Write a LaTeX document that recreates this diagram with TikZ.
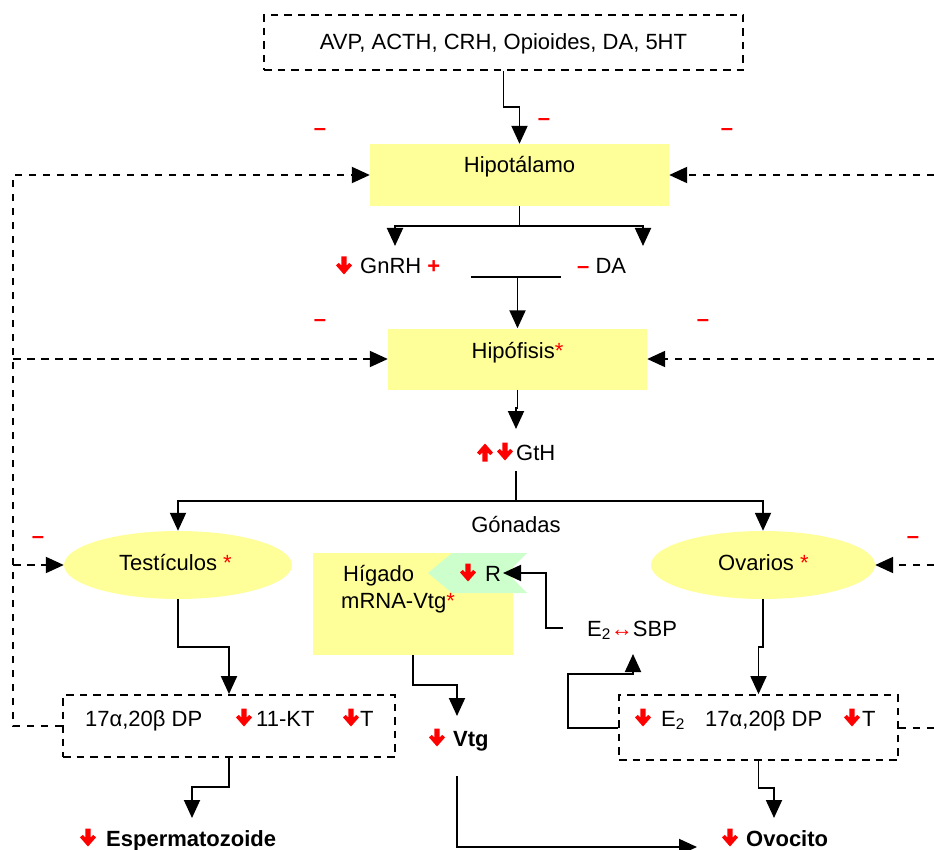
\documentclass[tikz,border=0pt]{standalone}
\usepackage{fontspec}
\setmainfont{Liberation Sans}
\usetikzlibrary{arrows.meta,shapes.geometric}
\definecolor{paleyellow}{HTML}{FFFF99}
\definecolor{palegreen}{HTML}{CCFFCC}
\definecolor{signred}{HTML}{FF0000}
\tikzset{
  conn/.style={line width=1.9pt, line join=miter},
  arr/.style={conn, -{Triangle[length=18pt,width=16pt]}},
  fb/.style={line width=2pt, line join=miter, dash pattern=on 7.5pt off 6.5pt},
  fbarr/.style={fb, -{Triangle[length=18pt,width=16pt]}},
  organ/.style={fill=paleyellow, draw=none, inner sep=0},
  dbox/.style={draw, line width=1.8pt, dash pattern=on 7.5pt off 6pt, inner sep=0},
  lbl/.style={inner sep=0, anchor=base west},
  ctr/.style={inner sep=0, anchor=base},
  neg/.style={text=signred, font=\fontsize{22}{26}\selectfont\bfseries, inner sep=0},
  pics/dn/.style={code={\fill[signred] (-2.7,-9.5) -- (2.7,-9.5) -- (2.7,-0.5) -- (5.2,-3.2) -- (8,-0.6) -- (0,8.5) -- (-8,-0.6) -- (-5.2,-3.2) -- (-2.7,-0.5) -- cycle;}},
  pics/upa/.style={code={\fill[signred] (-2.7,9.5) -- (2.7,9.5) -- (2.7,0.5) -- (5.2,3.2) -- (8,0.6) -- (0,-8.5) -- (-8,0.6) -- (-5.2,3.2) -- (-2.7,0.5) -- cycle;}},
}
\begin{document}
\begin{tikzpicture}[x=1pt, y=-1pt, font=\fontsize{22}{26}\selectfont]
\useasboundingbox (0,0) rectangle (934,850);

% ---------- boxes and organs ----------
\node[dbox, minimum width=479pt, minimum height=55pt] (top) at (503.5,42.5) {};
\node[ctr] (toptxt) at (503.5,50) {AVP, ACTH, CRH, Opioides, DA, 5HT};

\node[organ, minimum width=299pt, minimum height=62pt] (hypo) at (519.5,175) {};
\node[ctr] (hypotxt) at (519.5,173) {Hipotálamo};

\node[organ, minimum width=259pt, minimum height=61pt] (hypo2) at (517.5,359) {};
\node[ctr] (hypo2txt) at (517.5,358) {Hipófisis\textcolor{signred}{*}};

\node[organ, ellipse, minimum width=228pt, minimum height=68pt] (test) at (178,565) {};
\node[lbl] (testtxt) at (119,570) {Testículos \textcolor{signred}{*}};

\node[organ, ellipse, minimum width=224pt, minimum height=68pt] (ova) at (763,565) {};
\node[lbl] (ovatxt) at (718,570) {Ovarios \textcolor{signred}{*}};

\node[organ, minimum width=200pt, minimum height=102pt] (liver) at (413,604) {};
\fill[palegreen] (428,573) -- (452,553) -- (527,553) -- (507,573) -- (527,593) -- (452,593) -- cycle;
\node[lbl] (livertxt) at (343,581) {Hígado};
\node[lbl] (mrna) at (341,608) {mRNA-Vtg\textcolor{signred}{*}};
\pic at (468,573) {dn};
\node[lbl] (rec) at (485,581) {R};

\node[lbl] (sbp) at (587,636) {E\textsubscript{2}\textcolor{signred}{↔}SBP};

\node[dbox, minimum width=332pt, minimum height=62pt] (lbox) at (229,726) {};
\node[lbl] (ldp) at (85,726) {17α,20β DP};
\pic at (244,718) {dn};
\node[lbl] (lkt) at (256,726) {11-KT};
\pic at (351,718) {dn};
\node[lbl] (lt) at (360,726) {T};

\node[dbox, minimum width=279pt, minimum height=65pt] (rbox) at (758.5,727.5) {};
\pic at (643,718) {dn};
\node[lbl] (re2) at (661,726) {E\textsubscript{2}};
\node[lbl] (rdp) at (705,726) {17α,20β DP};
\pic at (852,718) {dn};
\node[lbl] (rt) at (862,726) {T};

% ---------- free labels ----------
\pic at (344,266) {dn};
\node[lbl] (gnrh) at (360,274) {GnRH \textcolor{signred}{\bfseries +}};
\node[lbl] (da) at (577,274) {\textcolor{signred}{\bfseries –} DA};

\pic at (485,452) {upa};
\pic at (505,452) {dn};
\node[lbl] (gth) at (516,460) {GtH};
\node[ctr] (gon) at (516,532) {Gónadas};

\pic at (437,738) {dn};
\node[lbl] (vtg) at (453,746) {\bfseries Vtg};

\pic at (88,838) {dn};
\node[lbl] (sperm) at (106,846) {\bfseries Espermatozoide};
\pic at (730,838) {dn};
\node[lbl] (ovo) at (746,846) {\bfseries Ovocito};

% ---------- inhibition signs ----------
\node[neg] (m1) at (320,132) {–};
\node[neg] (m2) at (727,132) {–};
\node[neg] (m3) at (544,122) {–};
\node[neg] (m4) at (320,323) {–};
\node[neg] (m5) at (703,323) {–};
\node[neg] (m6) at (38,540) {–};
\node[neg] (m7) at (913,540) {–};

% ---------- main axis ----------
\draw[arr] (top.south) -- (503.5,107) -- (519.5,107) -- (hypo.north);
\draw[conn] (hypo.south) -- (519.5,226);
\coordinate (gnrhIn) at (395,246);
\coordinate (daIn) at (643,246);
\draw[arr] (519.5,226) -| (gnrhIn);
\draw[arr] (519.5,226) -| (daIn);
\coordinate (barL) at (471,277);
\coordinate (barR) at (561,277);
\draw[conn] (barL) -- (barR);
\draw[arr] (517.5,277) -- (hypo2.north);
\coordinate (gthIn) at (516,429);
\draw[arr] (hypo2.south) -- (517.5,408) -- (516,408) -- (gthIn);
\coordinate (gthOut) at (516,471);
\draw[conn] (gthOut) -- (516,501);
\draw[arr] (516,501) -| (test.north);
\draw[arr] (516,501) -| (ova.north);

% ---------- gonads to steroids and gametes ----------
\draw[arr] (test.south) -- (178,647) -- (229,647) -- (lbox.north);
\draw[arr] (ova.south) -- (763,647) -- (758.5,647) -- (rbox.north);
\coordinate (spermIn) at (192,818);
\draw[arr] (lbox.south) -- (229,787) -- (192,787) -- (spermIn);
\coordinate (ovoIn) at (774,818);
\draw[arr] (rbox.south) -- (758.5,788) -- (774,788) -- (ovoIn);

% ---------- vitellogenesis ----------
\coordinate (vtgIn) at (457,716);
\draw[arr] (liver.south) -- (413,685) -- (457,685) -- (vtgIn);
\coordinate (vtgOut) at (457,776);
\coordinate (ovoSide) at (697,847);
\draw[arr] (vtgOut) -- (457,847) -- (ovoSide);
\coordinate (sbpIn) at (633,654);
\draw[arr] (rbox.west |- 0,728) -- (568,728) -- (568,674) -- (633,674) -- (sbpIn);
\coordinate (sbpOut) at (563,628);
\coordinate (recIn) at (503,573);
\draw[arr] (sbpOut) -- (546,628) -- (546,573) -- (recIn);

% ---------- feedback loops ----------
\draw[fbarr] (lbox.west) -- (13,726) -- (13,175) -- (hypo.west);
\draw[fbarr] (13,359) -- (hypo2.west);
\draw[fbarr] (13,565) -- (test.west);
\coordinate (fr1) at (934,175);
\coordinate (fr2) at (934,359);
\coordinate (fr3) at (934,565);
\coordinate (fr4) at (934,727.5);
\draw[fbarr] (fr1) -- (hypo.east);
\draw[fbarr] (fr2) -- (hypo2.east);
\draw[fbarr] (fr3) -- (ova.east);
\draw[fb] (rbox.east) -- (fr4);
\end{tikzpicture}
\end{document}
